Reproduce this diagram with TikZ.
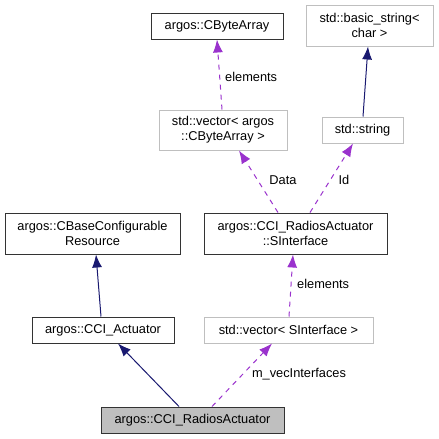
\documentclass[tikz,border=0pt]{standalone}
\usepackage{fontspec}
\setmainfont{Liberation Sans}
\usepackage{tikz}
\usetikzlibrary{positioning,arrows.meta}

\definecolor{inhblue}{HTML}{191970}
\definecolor{usepurple}{HTML}{9A32CD}
\definecolor{lightframe}{HTML}{BFBFBF}

\tikzset{
  cls/.style={draw=black!80, line width=1pt, inner sep=0pt, align=center,
    font=\fontsize{12.8}{15}\selectfont},
  ext/.style={cls, draw=lightframe},
  inherit/.style={draw=inhblue, line width=1pt, -{Latex[length=13pt,width=10pt]}},
  member/.style={draw=usepurple, line width=1pt, dash pattern=on 5pt off 5pt,
    -{Latex[length=13pt,width=10pt]}},
  lbl/.style={inner sep=0pt, font=\fontsize{12.8}{15}\selectfont}
}

\begin{document}
\begin{tikzpicture}[x=1pt, y=-1pt]
\useasboundingbox (0,0) rectangle (439,439);

% classes
\node[cls, minimum width=132pt, minimum height=26pt] (bytearray) at (217,26) {argos::CByteArray};
\node[ext, minimum width=127pt, minimum height=41pt] (basicstr) at (369.5,25.5) {std::basic\_string<\\char >};
\node[ext, minimum width=128pt, minimum height=40pt] (vecbytes) at (223,130) {std::vector< argos\\::CByteArray >};
\node[ext, minimum width=81pt, minimum height=26pt] (stdstr) at (362.5,130) {std::string};
\node[cls, minimum width=175pt, minimum height=41pt] (confres) at (92.5,233.5) {argos::CBaseConfigurable\\Resource};
\node[cls, minimum width=183pt, minimum height=41pt] (siface) at (295.5,233.5) {argos::CCI\_RadiosActuator\\::SInterface};
\node[cls, minimum width=142pt, minimum height=26pt] (actuator) at (103,330) {argos::CCI\_Actuator};
\node[ext, minimum width=169pt, minimum height=26pt] (vecsiface) at (288.5,330) {std::vector< SInterface >};
\node[cls, fill=lightframe, minimum width=183pt, minimum height=26pt] (radios) at (192.5,420) {argos::CCI\_RadiosActuator};

% inheritance
\draw[inherit] ([xshift=-2pt]actuator.north) -- ([xshift=3.5pt]confres.south);
\draw[inherit] ([xshift=-13.5pt]radios.north) -- ([xshift=15pt]actuator.south);
\draw[inherit] ([xshift=0.5pt]stdstr.north) -- ([xshift=-1.5pt]basicstr.south);

% members
\draw[member] ([xshift=19.5pt]radios.north) -- ([xshift=-16.5pt]vecsiface.south);
\draw[member] ([xshift=0.5pt]vecsiface.north) -- ([xshift=-2.5pt]siface.south);
\draw[member] ([xshift=-17.5pt]siface.north) -- ([xshift=16pt]vecbytes.south);
\draw[member] ([xshift=14.5pt]siface.north) -- ([xshift=-9.5pt]stdstr.south);
\draw[member] ([xshift=-1pt]vecbytes.north) -- (bytearray.south);

% labels
\node[lbl, anchor=west] (lblelem) at (225,77) {elements};
\node[lbl] (lbldata) at (283,180) {Data};
\node[lbl] (lblid) at (344,180) {Id};
\node[lbl, anchor=west] (lblelemsi) at (297,284) {elements};
\node[lbl] (lblvec) at (299,374) {m\_vecInterfaces};

\end{tikzpicture}
\end{document}
